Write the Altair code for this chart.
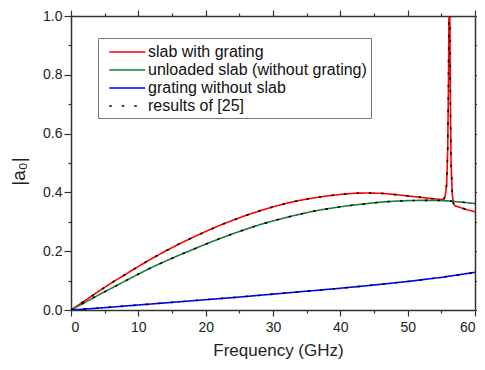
import altair as alt
import pandas as pd

# ---- data ----
freq_slab_grating = [0, 2, 4, 6, 8, 10, 12, 14, 16, 18, 20, 22, 24, 26, 28, 30, 32, 34, 36,
                     38, 40, 42, 44, 46, 48, 50, 52, 54, 55, 55.4, 55.6, 55.8, 55.95, 56.05,
                     56.15, 56.25, 56.35, 56.45, 56.6, 56.8, 57, 58, 59, 60]
val_slab_grating = [0, 0.031, 0.062, 0.092, 0.12, 0.148, 0.175, 0.2, 0.224, 0.246, 0.267,
                    0.287, 0.305, 0.322, 0.337, 0.351, 0.363, 0.373, 0.381, 0.388, 0.393,
                    0.397, 0.398, 0.397, 0.393, 0.388, 0.383, 0.378, 0.376, 0.378, 0.39,
                    0.43, 0.55, 0.75, 1.05, 1.05, 0.7, 0.5, 0.4, 0.362, 0.355, 0.347,
                    0.34, 0.334]

freq_unloaded = [0, 2, 4, 6, 8, 10, 12, 14, 16, 18, 20, 22, 24, 26, 28, 30, 32, 34, 36, 38,
                 40, 42, 44, 46, 48, 50, 52, 54, 56, 58, 60]
val_unloaded = [0, 0.025, 0.05, 0.074, 0.098, 0.122, 0.145, 0.166, 0.186, 0.205, 0.224,
                0.242, 0.259, 0.275, 0.29, 0.303, 0.315, 0.326, 0.336, 0.344, 0.351,
                0.357, 0.362, 0.367, 0.37, 0.372, 0.373, 0.373, 0.371, 0.367, 0.362]

freq_grating = [0, 5, 10, 15, 20, 25, 30, 35, 40, 45, 50, 55, 60]
val_grating = [0, 0.008, 0.017, 0.026, 0.035, 0.044, 0.054, 0.064, 0.074, 0.085, 0.097,
               0.111, 0.128]

series_names = ["slab with grating", "unloaded slab (without grating)",
                "grating without slab", "results of [25]"]
series_colors = ["#ff0000", "#1e7a3c", "#0000ff", "#000000"]

x_ticks = list(range(0, 61, 5))
y_ticks = [round(i * 0.1, 1) for i in range(11)]

# ---- table ----
curves = [(series_names[0], freq_slab_grating, val_slab_grating),
          (series_names[1], freq_unloaded, val_unloaded),
          (series_names[2], freq_grating, val_grating)]
rows = []
for name, fs, vs in curves:
    for f, v in zip(fs, vs):
        rows.append({"freq": f, "a0": v, "series": name, "curve": name})
for name, fs, vs in curves:
    for f, v in zip(fs, vs):
        rows.append({"freq": f, "a0": v, "series": series_names[3], "curve": name})
df = pd.DataFrame(rows)

FONT = "Liberation Sans"
AXC = "#333333"

legend = alt.Legend(
    title=None, orient="none", legendX=27, legendY=22,
    symbolType="M-0.3,0H3.7", symbolSize=324, labelFontSize=16, labelFont=FONT,
    labelColor="#111", labelLimit=400, strokeColor="#777777", fillColor="white",
    padding=4, rowPadding=-2, labelOffset=26,
)

xscale = alt.Scale(domain=[0, 60], nice=False, zero=True)
yscale = alt.Scale(domain=[0, 1], nice=False)

x_main = alt.X(
    "freq:Q", scale=xscale,
    axis=alt.Axis(
        values=x_ticks, title="Frequency (GHz)", grid=False,
        labelExpr="datum.value % 10 === 0 ? datum.label : ''",
        tickSize={"condition": {"test": "datum.value % 10 === 0", "value": 6}, "value": 3},
        labelFontSize=14, labelFont=FONT, labelColor="#222", labelPadding=4,
        titleFontSize=17, titleFont=FONT, titleFontWeight="normal", titleColor="#222",
        titleX=207, titleY=45, titleBaseline="alphabetic",
        domainColor=AXC, domainWidth=1.5, tickColor=AXC, tickWidth=1.2,
    ),
)
y_main = alt.Y(
    "a0:Q", scale=yscale,
    axis=alt.Axis(
        values=y_ticks, title="|a₀|", grid=False, format=".1f",
        labelExpr="round(datum.value * 10) % 2 === 0 ? datum.label : ''",
        tickSize={"condition": {"test": "round(datum.value * 10) % 2 === 0", "value": 7}, "value": 3},
        labelFontSize=14, labelFont=FONT, labelColor="#222", labelPadding=2,
        titleFontSize=19, titleFont=FONT, titleFontWeight="normal", titleColor="#222",
        titleX=-53, titleY=155, titleAlign="center", titleBaseline="middle",
        domainColor=AXC, domainWidth=1.5, tickColor=AXC, tickWidth=1.2,
    ),
)

lines = alt.Chart(df).mark_line(clip=True, strokeCap="butt").encode(
    x=x_main,
    y=y_main,
    color=alt.Color("series:N", scale=alt.Scale(domain=series_names, range=series_colors), legend=legend),
    strokeDash=alt.StrokeDash("series:N", scale=alt.Scale(domain=series_names,
                              range=[[1, 0], [1, 0], [1, 0], [2.5, 10]]), legend=legend),
    strokeWidth=alt.StrokeWidth("series:N", scale=alt.Scale(domain=series_names,
                                range=[1.6, 1.6, 1.6, 3]), legend=legend),
    detail="curve:N",
    order="freq:Q",
)

frame = alt.Chart(df).mark_point(opacity=0, size=0).encode(
    x=alt.X("freq:Q", scale=xscale, axis=alt.Axis(
        orient="top", values=x_ticks, labels=False, title=None, grid=False,
        tickSize={"condition": {"test": "datum.value % 10 === 0", "value": 6}, "value": 3},
        domainColor=AXC, domainWidth=1.5, tickColor=AXC, tickWidth=1.2)),
    y=alt.Y("a0:Q", scale=yscale, axis=alt.Axis(
        orient="right", values=y_ticks, labels=False, title=None, grid=False,
        tickSize={"condition": {"test": "round(datum.value * 10) % 2 === 0", "value": 6}, "value": 3},
        domainColor=AXC, domainWidth=1.5, tickColor=AXC, tickWidth=1.2)),
)

chart = alt.layer(lines, frame).resolve_axis(x="independent", y="independent").properties(
    width=404, height=294,
    autosize=alt.AutoSizeParams(type="none"),
    padding={"left": 63, "top": 8, "right": 2, "bottom": 52},
).configure_view(stroke=None).configure(background="white")

chart.save("out.html", embed_options={"renderer": "svg", "actions": False})
